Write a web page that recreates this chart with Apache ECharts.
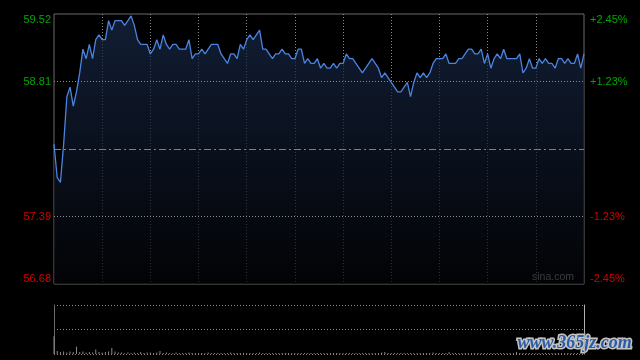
<!DOCTYPE html>
<html>
<head>
<meta charset="utf-8">
<style>
html,body{margin:0;padding:0;background:#000;}
#c{width:640px;height:360px;}
</style>
<script src="https://cdn.jsdelivr.net/npm/echarts@6/dist/echarts.min.js"></script>
</head>
<body>
<div id="c"></div>
<script>
// Price (2-minute samples, HK session 09:30-12:00, 13:00-16:00)
var prices = [
58.15,57.80,57.75,58.15,58.65,58.75,58.55,58.70,58.90,59.15,
59.05,59.20,59.05,59.25,59.30,59.25,59.25,59.45,59.35,59.45,
59.45,59.45,59.40,59.45,59.50,59.40,59.25,59.20,59.20,59.20,
59.10,59.15,59.25,59.15,59.30,59.20,59.15,59.20,59.20,59.15,
59.15,59.15,59.25,59.05,59.10,59.10,59.15,59.10,59.15,59.20,
59.20,59.20,59.10,59.05,59.00,59.10,59.10,59.05,59.20,59.15,
59.25,59.30,59.25,59.30,59.35,59.15,59.15,59.10,59.05,59.10,
59.10,59.15,59.10,59.10,59.05,59.05,59.15,59.15,59.00,59.05,
59.00,59.00,59.05,58.95,59.00,58.95,58.95,59.00,58.95,59.00,
59.00,59.10,59.05,59.05,59.00,58.95,58.90,58.95,59.00,59.05,
59.00,58.95,58.85,58.90,58.85,58.80,58.75,58.70,58.70,58.75,
58.80,58.65,58.80,58.90,58.85,58.90,58.85,58.90,59.00,59.05,
59.05,59.05,59.10,59.00,59.00,59.00,59.05,59.05,59.10,59.15,
59.15,59.10,59.10,59.15,59.00,59.10,58.95,59.05,59.10,59.05,
59.15,59.05,59.05,59.05,59.05,59.10,58.90,58.95,59.05,58.95,
58.95,59.05,59.00,59.05,59.00,59.00,58.95,59.05,59.05,59.00,
59.05,59.00,59.00,59.10,58.95,59.10
];
var volumes = [
36,6,4,5,3,5,4,15,4,5,
3,4,3,9,4,3,4,5,12,5,
3,3,2,3,2,3,2,4,2,3,
3,2,3,6,2,3,2,2,3,2,
2,2,3,2,2,2,2,2,3,2,
2,2,2,2,2,3,2,2,2,2,
2,2,2,2,3,2,2,2,2,2,
2,2,2,2,2,2,2,2,2,2,
2,2,2,2,2,2,2,2,2,2,
2,2,2,2,2,2,2,2,2,2,
2,2,3,4,2,2,2,2,2,2,
2,2,2,2,2,2,2,2,3,2,
2,2,2,4,2,2,2,2,2,2,
2,2,2,2,2,2,2,2,2,2,
2,2,2,2,4,2,2,2,2,2,
2,2,2,2,2,2,2,2,2,2,
2,2,2,2,2,2
];
var prevClose = 58.10;
var priceTicks = [56.68, 57.39, 58.10, 58.81, 59.52];
var leftLabels = ['56.68', '57.39', '', '58.81', '59.52'];
var rightLabels = ['-2.45%', '-1.23%', '', '+1.23%', '+2.45%'];
var hLines = [57.39, 58.81];

// time categories
var times = [];
(function(){
  function fmt(m){var h=Math.floor(m/60),mm=m%60;return (h<10?'0':'')+h+':'+(mm<10?'0':'')+mm;}
  for (var m = 570; m <= 720; m += 2) times.push(fmt(m));
  for (var m2 = 782; m2 <= 960; m2 += 2) times.push(fmt(m2));
})();

function labelFor(arr, v){
  var best = 0, d = 1e9;
  for (var i = 0; i < priceTicks.length; i++){
    var dd = Math.abs(priceTicks[i] - v);
    if (dd < d){ d = dd; best = i; }
  }
  var t = arr[best];
  if (!t) return '';
  return (priceTicks[best] > prevClose ? '{g|' : '{r|') + t + '}';
}
var rich = {
  g: {color: '#00a800', fontSize: 11, fontFamily: 'Liberation Sans, Arial, sans-serif'},
  r: {color: '#d40000', fontSize: 11, fontFamily: 'Liberation Sans, Arial, sans-serif'}
};
var dotted = {color: '#8a8a8a', width: 1, type: [1, 2]};

var chart = echarts.init(document.getElementById('c'), null, {renderer: 'canvas'});
chart.setOption({
  backgroundColor: '#000',
  animation: false,
  grid: [
    {left: 54, top: 14, width: 530, height: 270, show: true, borderColor: '#6a6a6a', borderWidth: 1, backgroundColor: 'transparent'},
    {left: 54, top: 305, width: 530, height: 49, show: false}
  ],
  xAxis: [
    {type: 'category', gridIndex: 0, data: times, boundaryGap: false,
     axisLine: {show: false}, axisTick: {show: false}, axisLabel: {show: false},
     splitLine: {show: true, interval: function(i){ return i % 15 === 0 && i > 0 && i < times.length - 1; }, lineStyle: dotted}},
    {type: 'category', gridIndex: 1, data: times, boundaryGap: false,
     axisLine: {show: false}, axisTick: {show: false}, axisLabel: {show: false}, splitLine: {show: false}}
  ],
  yAxis: [
    {type: 'value', gridIndex: 0, position: 'left', min: priceTicks[0], max: priceTicks[4], interval: 0.71,
     axisLine: {show: false}, axisTick: {show: false}, splitLine: {show: false},
     axisLabel: {margin: 3, formatter: function(v){ return labelFor(leftLabels, v); }, rich: rich,
       verticalAlignMinLabel: 'bottom', verticalAlignMaxLabel: 'top'}},
    {type: 'value', gridIndex: 0, position: 'right', min: priceTicks[0], max: priceTicks[4], interval: 0.71,
     axisLine: {show: false}, axisTick: {show: false}, splitLine: {show: false},
     axisLabel: {margin: 6, formatter: function(v){ return labelFor(rightLabels, v); }, rich: rich,
       verticalAlignMinLabel: 'bottom', verticalAlignMaxLabel: 'top'}},
    {type: 'value', gridIndex: 1, position: 'left', min: 0, max: 100, interval: 50,
     axisLine: {show: true, lineStyle: {color: '#6a6a6a'}}, axisTick: {show: false}, axisLabel: {show: false},
     splitLine: {show: true, lineStyle: dotted}},
    {type: 'value', gridIndex: 1, position: 'right', min: 0, max: 100, interval: 50,
     axisLine: {show: true, lineStyle: {color: '#b0b0b0'}}, axisTick: {show: false}, axisLabel: {show: false},
     splitLine: {show: false}}
  ],
  series: [
    {type: 'line', xAxisIndex: 0, yAxisIndex: 0, data: prices, symbol: 'none', smooth: false,
     lineStyle: {color: '#4b84e0', width: 1.3},
     areaStyle: {color: new echarts.graphic.LinearGradient(0, 0, 0, 1, [
       {offset: 0, color: '#192a4a'}, {offset: 1, color: '#030407'}])},
     markLine: {silent: true, symbol: 'none', label: {show: false},
       data: hLines.map(function(v){ return {yAxis: v, lineStyle: dotted}; }).concat([
         {yAxis: prevClose, lineStyle: {color: '#75828f', width: 1, type: [7, 3, 2, 3]}}])}},
    {type: 'bar', xAxisIndex: 1, yAxisIndex: 2, data: volumes, barWidth: 1,
     itemStyle: {color: '#8a8a8a'}}
  ],
  graphic: [
    {type: 'text', left: 532, top: 272, silent: true,
     style: {text: 'sina.com', fill: '#b4b4b4', font: '10.5px "Liberation Sans", Arial, sans-serif'}},
    {type: 'text', left: 516, top: 333, silent: true,
     style: {text: 'www.365jz.com', fill: '#2c5ca6', stroke: '#c4c4c4', lineWidth: 3,
       font: 'bold italic 18px "Liberation Serif", serif'}}
  ]
});
</script>
</body>
</html>
